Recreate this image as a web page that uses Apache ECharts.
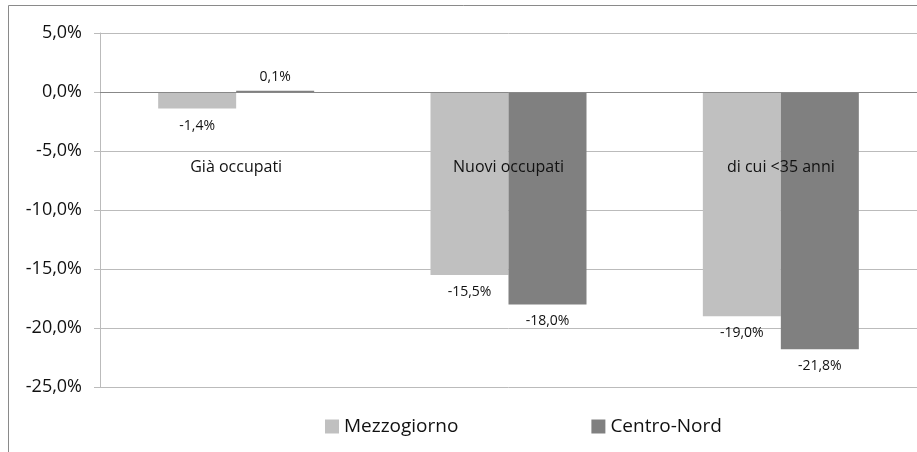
<!DOCTYPE html>
<html>
<head>
<meta charset="utf-8">
<script src="https://cdn.jsdelivr.net/npm/echarts@6/dist/echarts.min.js"></script>
<style>
  html, body { margin: 0; padding: 0; background: #fff; }
  #chart { width: 917px; height: 452px; }
</style>
</head>
<body>
<div id="chart"></div>
<script>
var categories = ['Già occupati', 'Nuovi occupati', 'di cui <35 anni'];
var mezzogiorno = [-1.4, -15.5, -19.0];
var centroNord = [0.1, -18.0, -21.8];
var yTicks = [-25, 5, 5]; // min, max, step

function pct(v) {
	return v.toFixed(1).replace('.', ',') + '%';
}

// etichette sotto le barre negative, sopra quelle positive
function withLabels(arr) {
	return arr.map(function (v) {
		return {
			value: v,
			label: { position: v < 0 ? 'bottom' : 'top', distance: v < 0 ? 10 : 7 }
		};
	});
}

var myChart = echarts.init(document.getElementById('chart'));

var font = 'Open Sans';

var option = {
	animation: false,
	graphic: [{
		type: 'rect',
		shape: { x: 8.5, y: 5.5, width: 1000, height: 1000 },
		style: { fill: 'none', stroke: '#8a8a8a', lineWidth: 1 },
		silent: true
	}],
	grid: { left: 100, right: 0, top: 33, bottom: 65, outerBoundsMode: 'none' },
	legend: {
		bottom: 11,
		left: 320,
		itemWidth: 14,
		itemHeight: 14,
		itemGap: 133,
		icon: 'rect',
		textStyle: { fontFamily: font, fontSize: 19, color: '#111' },
		data: ['Mezzogiorno', 'Centro-Nord']
	},
	xAxis: {
		type: 'category',
		data: categories,
		z: 5,
		axisLine: { show: false, onZero: false },
		axisTick: { show: false },
		// etichette dentro l'area, sotto la linea dello zero
		axisLabel: { margin: -228, fontFamily: font, fontSize: 16, color: '#111' }
	},
	yAxis: {
		type: 'value',
		min: yTicks[0],
		max: yTicks[1],
		interval: yTicks[2],
		axisLine: { show: true, lineStyle: { color: '#bbb' } },
		axisTick: { show: true, length: 6, lineStyle: { color: '#bbb' } },
		splitLine: { lineStyle: { color: '#bbb' } },
		axisLabel: {
			margin: 18,
			fontFamily: font,
			fontSize: 18,
			color: '#111',
			formatter: pct
		}
	},
	series: [{
		name: 'Mezzogiorno',
		type: 'bar',
		barWidth: 78,
		barGap: '0%',
		itemStyle: { color: '#c0c0c0' },
		label: {
			show: true,
			fontFamily: font,
			fontSize: 14,
			color: '#111',
			formatter: function (p) { return pct(p.value); }
		},
		markLine: {
			silent: true,
			symbol: 'none',
			label: { show: false },
			lineStyle: { color: '#888', type: 'solid', width: 1 },
			data: [{ yAxis: 0 }]
		},
		data: withLabels(mezzogiorno)
	}, {
		name: 'Centro-Nord',
		type: 'bar',
		barWidth: 78,
		barGap: '0%',
		itemStyle: { color: '#808080' },
		label: {
			show: true,
			fontFamily: font,
			fontSize: 14,
			color: '#111',
			formatter: function (p) { return pct(p.value); }
		},
		data: withLabels(centroNord)
	}]
};

myChart.setOption(option);
</script>
</body>
</html>
